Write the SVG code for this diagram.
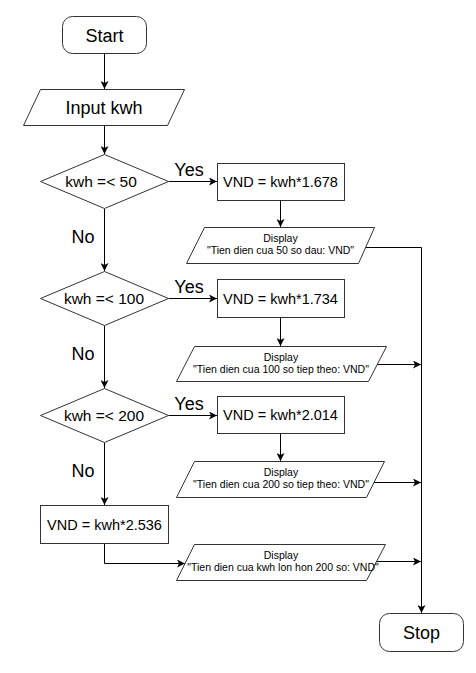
<svg xmlns="http://www.w3.org/2000/svg" width="476" height="673" viewBox="0 0 476 673">
<style>
.s{fill:#fff;stroke:#333;stroke-width:1}
.c{fill:none;stroke:#000;stroke-width:1;marker-end:url(#a)}
.cn{fill:none;stroke:#000;stroke-width:1}
text{font-family:"Liberation Sans",Arial,Helvetica,sans-serif;fill:#000;text-anchor:middle}
.t18{font-size:18px}
.t16{font-size:15.5px}
.t15{font-size:14.5px}
.lb{font-size:18px}
.sm{font-size:10.5px}
</style>
<defs>
<marker id="a" viewBox="0 0 8 8" refX="8" refY="4" markerWidth="8" markerHeight="8" markerUnits="userSpaceOnUse" orient="auto">
<path d="M0,0 L8,4 L0,8 L2,4 z" fill="#000"/>
</marker>
</defs>
<rect width="476" height="673" fill="#fff"/>
<g id="connectors">
<path class="c" d="M104.5,53.5 V89"/>
<path class="c" d="M104.5,125.5 V154"/>
<path class="c" d="M168.5,181.5 H217"/>
<path class="c" d="M280.5,200.5 V227"/>
<path class="c" d="M365,247.5 H421.5 V613"/>
<path class="c" d="M104.5,208.5 V271"/>
<path class="c" d="M168.5,298.5 H217"/>
<path class="c" d="M280.5,317.5 V346"/>
<path class="c" d="M377,364.5 H421"/>
<path class="c" d="M104.5,325.5 V388"/>
<path class="c" d="M168.5,415.5 H217"/>
<path class="c" d="M280.5,433.5 V461"/>
<path class="c" d="M373,482.5 H421"/>
<path class="c" d="M104.5,442.5 V505"/>
<path class="c" d="M104.5,543.5 V563.5 H185"/>
<path class="c" d="M376,561.5 H421"/>
<text class="lb" x="189" y="175.5">Yes</text>
<text class="lb" x="189" y="292.5">Yes</text>
<text class="lb" x="189" y="409.5">Yes</text>
<text class="lb" x="83" y="243">No</text>
<text class="lb" x="83" y="360">No</text>
<text class="lb" x="83" y="477">No</text>
</g>
<g id="start">
<rect class="s" x="62.5" y="16.5" width="84" height="37" rx="10"/>
<text class="t18" x="104.5" y="41.5">Start</text>
</g>
<g id="input">
<polygon class="s" points="40.5,89.5 184.5,89.5 167.5,125.5 23.5,125.5"/>
<text class="t18" x="104" y="114">Input kwh</text>
</g>
<g id="d1">
<polygon class="s" points="104.5,154.5 168.5,181.5 104.5,208.5 40.5,181.5"/>
<text class="t16" x="101" y="187">kwh =&lt; 50</text>
</g>
<g id="b1">
<rect class="s" x="217.5" y="163.5" width="127" height="37"/>
<text class="t15" x="280.5" y="187">VND = kwh*1.678</text>
</g>
<g id="p1">
<polygon class="s" points="204.5,227.5 374.5,227.5 358.5,263.5 186.5,263.5"/>
<text class="sm" x="280.5" y="242">Display</text>
<text class="sm" x="280.5" y="254">"Tien dien cua 50 so dau: VND"</text>
</g>
<g id="d2">
<polygon class="s" points="104.5,271.5 168.5,298.5 104.5,325.5 40.5,298.5"/>
<text class="t16" x="104" y="304">kwh =&lt; 100</text>
</g>
<g id="b2">
<rect class="s" x="217.5" y="279.5" width="127" height="38"/>
<text class="t15" x="280.5" y="303.5">VND = kwh*1.734</text>
</g>
<g id="p2">
<polygon class="s" points="194.5,346.5 386.5,346.5 368.5,381.5 176.5,381.5"/>
<text class="sm" x="281" y="360.5">Display</text>
<text class="sm" x="281" y="372.5">"Tien dien cua 100 so tiep theo: VND"</text>
</g>
<g id="d3">
<polygon class="s" points="104.5,388.5 168.5,415.5 104.5,442.5 40.5,415.5"/>
<text class="t16" x="104" y="421">kwh =&lt; 200</text>
</g>
<g id="b3">
<rect class="s" x="217.5" y="396.5" width="127" height="37"/>
<text class="t15" x="280.5" y="420">VND = kwh*2.014</text>
</g>
<g id="p3">
<polygon class="s" points="194.5,461.5 384.5,461.5 366.5,497.5 176.5,497.5"/>
<text class="sm" x="281" y="476">Display</text>
<text class="sm" x="281" y="488">"Tien dien cua 200 so tiep theo: VND"</text>
</g>
<g id="b4">
<rect class="s" x="40.5" y="505.5" width="128" height="38"/>
<text class="t15" x="104.5" y="529.5">VND = kwh*2.536</text>
</g>
<g id="p4">
<polygon class="s" points="194.5,544.5 385.5,544.5 366.5,580.5 176.5,580.5"/>
<text class="sm" x="281" y="559">Display</text>
<text class="sm" x="283" y="571">"Tien dien cua kwh lon hon 200 so: VND"</text>
</g>
<g id="stop">
<rect class="s" x="379.5" y="613.5" width="84" height="38" rx="10"/>
<text class="t18" x="421.5" y="639">Stop</text>
</g>
</svg>
